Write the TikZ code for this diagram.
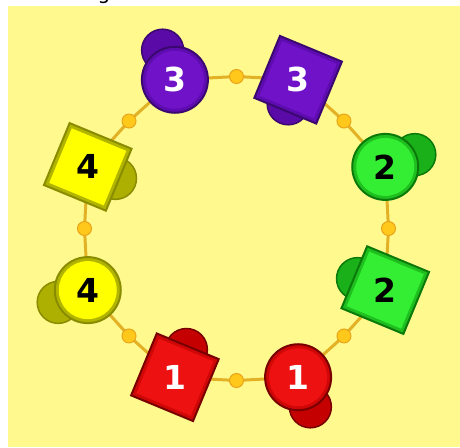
\documentclass[tikz,border=0pt]{standalone}
\usepackage{fontspec}
\newfontfamily\numfont{DejaVu Sans}
\usetikzlibrary{calc}
\pgfdeclarelayer{bglayer}
\pgfdeclarelayer{back}
\pgfsetlayers{bglayer,back,main}
\definecolor{bgc}{HTML}{FFF98E}
\definecolor{linec}{HTML}{E3B126}
\definecolor{dotc}{HTML}{FFC81A}
\definecolor{dotd}{HTML}{E8A41A}
% purple
\definecolor{pMain}{HTML}{7012C8}
\definecolor{pMid}{HTML}{5E0CB0}
\definecolor{pDark}{HTML}{3A0870}
\definecolor{pBlob}{HTML}{5A0AA6}
% green
\definecolor{gMain}{HTML}{33EE33}
\definecolor{gMid}{HTML}{1FBF1F}
\definecolor{gDark}{HTML}{0B7A0B}
\definecolor{gBlob}{HTML}{19B019}
% red
\definecolor{rMain}{HTML}{EE1111}
\definecolor{rMid}{HTML}{D00707}
\definecolor{rDark}{HTML}{780000}
\definecolor{rBlob}{HTML}{C40000}
% yellow
\definecolor{yMain}{HTML}{FFFF00}
\definecolor{yMid}{HTML}{B2B500}
\definecolor{yDark}{HTML}{8A8C00}
\definecolor{yBlob}{HTML}{ADB000}
\tikzset{
  circ/.style={circle, minimum size=66pt, inner sep=0pt, line width=2pt},
  circin/.style={circle, minimum size=58pt, inner sep=0pt},
  sq/.style={rectangle, minimum size=67pt, inner sep=0pt, line width=2pt, rotate=-22.5},
  sqin/.style={rectangle, minimum size=59pt, inner sep=0pt, rotate=-22.5},
  blob/.style={circle, minimum size=42pt, inner sep=0pt, line width=1.5pt},
  num/.style={font=\numfont\bfseries\fontsize{33}{33}\selectfont, inner sep=0pt},
  dot/.style={circle, minimum size=14pt, inner sep=0pt, fill=dotc, draw=dotd, line width=1pt},
  link/.style={draw=linec, line width=3pt},
}
\begin{document}
\begin{tikzpicture}[x=1pt,y=-1pt]
\useasboundingbox (0,0) rectangle (460,447);
\begin{pgfonlayer}{bglayer}
\fill[bgc] (8,6) rectangle (460,447);
\end{pgfonlayer}
\node[font=\fontspec{DejaVu Sans}\fontsize{20}{20}\selectfont, anchor=base, inner sep=0pt] (title) at (104,-1) {g};
\coordinate (C) at (236.5,228.5);

% purple circle 3
\node[blob, fill=pBlob, draw=pDark] (b3c) at ($(C)+(-112.5:193)$) {};
\node[circ, fill=pMid, draw=pDark] (c3) at ($(C)+(-112.5:161)$) {};
\node[circin, fill=pMain] (c3i) at (c3) {};
\node[num, text=white] (t3c) at (c3) {3};
% purple square 3
\node[blob, fill=pBlob, draw=pDark] (b3s) at ($(C)+(-67.5:135)$) {};
\node[sq, fill=pMid, draw=pDark] (s3) at ($(C)+(-67.5:161)$) {};
\node[sqin, fill=pMain] (s3i) at (s3) {};
\node[num, text=white] (t3s) at (s3) {3};
% green circle 2
\node[blob, fill=gBlob, draw=gDark] (b2c) at ($(C)+(-22.5:193)$) {};
\node[circ, fill=gMid, draw=gDark] (c2) at ($(C)+(-22.5:161)$) {};
\node[circin, fill=gMain] (c2i) at (c2) {};
\node[num, text=black] (t2c) at (c2) {2};
% green square 2
\node[blob, fill=gBlob, draw=gDark] (b2s) at ($(C)+(22.5:131)$) {};
\node[sq, fill=gMid, draw=gDark] (s2) at ($(C)+(22.5:161)$) {};
\node[sqin, fill=gMain] (s2i) at (s2) {};
\node[num, text=black] (t2s) at (s2) {2};
% red circle 1
\node[blob, fill=rBlob, draw=rDark] (b1c) at ($(C)+(67.5:193)$) {};
\node[circ, fill=rMid, draw=rDark] (c1) at ($(C)+(67.5:161)$) {};
\node[circin, fill=rMain] (c1i) at (c1) {};
\node[num, text=white] (t1c) at (c1) {1};
% red square 1
\node[blob, fill=rBlob, draw=rDark] (b1s) at ($(C)+(112.5:131)$) {};
\node[sq, fill=rMid, draw=rDark] (s1) at ($(C)+(112.5:161)$) {};
\node[sqin, fill=rMain] (s1i) at (s1) {};
\node[num, text=white] (t1s) at (s1) {1};
% yellow circle 4
\node[blob, fill=yBlob, draw=yDark] (b4c) at ($(C)+(157.5:193)$) {};
\node[circ, fill=yMid, draw=yDark] (c4) at ($(C)+(157.5:161)$) {};
\node[circin, fill=yMain] (c4i) at (c4) {};
\node[num, text=black] (t4c) at (c4) {4};
% yellow square 4
\node[blob, fill=yBlob, draw=yDark] (b4s) at ($(C)+(-157.5:131)$) {};
\node[sq, fill=yMid, draw=yDark] (s4) at ($(C)+(-157.5:161)$) {};
\node[sqin, fill=yMain] (s4i) at (s4) {};
\node[num, text=black] (t4s) at (s4) {4};

% dots
\node[dot] (d1) at ($(C)+(-90:152)$) {};
\node[dot] (d2) at ($(C)+(-45:152)$) {};
\node[dot] (d3) at ($(C)+(0:152)$) {};
\node[dot] (d4) at ($(C)+(45:152)$) {};
\node[dot] (d5) at ($(C)+(90:152)$) {};
\node[dot] (d6) at ($(C)+(135:152)$) {};
\node[dot] (d7) at ($(C)+(180:152)$) {};
\node[dot] (d8) at ($(C)+(-135:152)$) {};

\begin{pgfonlayer}{back}
\path[link] (c3.center) -- (d1.center) -- (s3.center);
\path[link] (s3.center) -- (d2.center) -- (c2.center);
\path[link] (c2.center) -- (d3.center) -- (s2.center);
\path[link] (s2.center) -- (d4.center) -- (c1.center);
\path[link] (c1.center) -- (d5.center) -- (s1.center);
\path[link] (s1.center) -- (d6.center) -- (c4.center);
\path[link] (c4.center) -- (d7.center) -- (s4.center);
\path[link] (s4.center) -- (d8.center) -- (c3.center);
\end{pgfonlayer}
\end{tikzpicture}
\end{document}
